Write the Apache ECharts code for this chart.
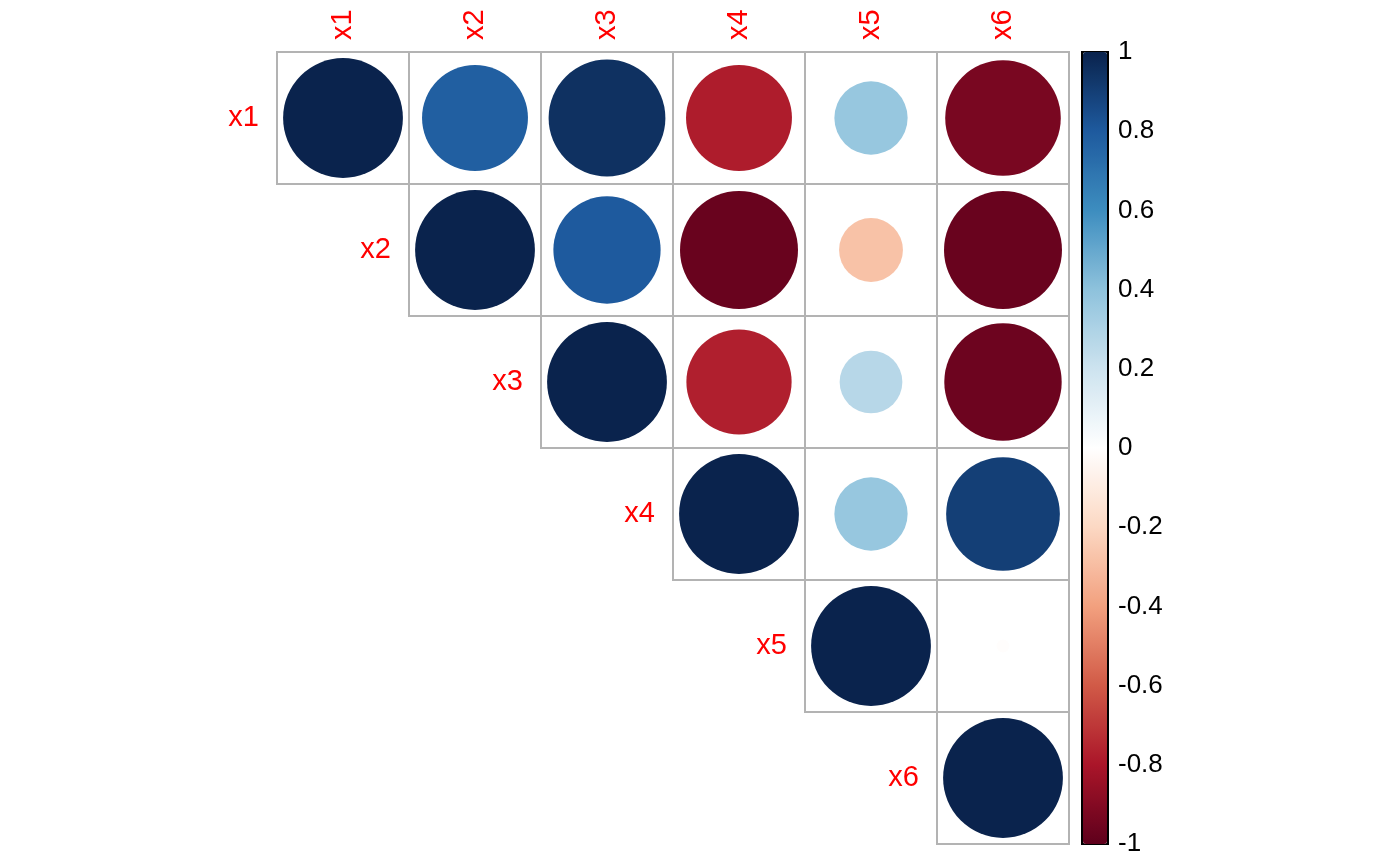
<!DOCTYPE html>
<html>
<head>
<meta charset="utf-8">
<title>corrplot</title>
<script src="https://cdn.jsdelivr.net/npm/echarts@6.0.0/dist/echarts.min.js"></script>
<style>
  html, body { margin: 0; padding: 0; background: #ffffff; }
  #main { width: 1400px; height: 865px; }
</style>
</head>
<body>
<div id="main"></div>
<script>
// variable names
const variables = ['x1', 'x2', 'x3', 'x4', 'x5', 'x6'];
// upper triangle of correlation matrix, each row starts at the diagonal
const rowX1 = [1.00, 0.78, 0.95, -0.78, 0.37, -0.93];
const rowX2 = [1.00, 0.80, -0.97, -0.28, -0.97];
const rowX3 = [1.00, -0.77, 0.27, -0.96];
const rowX4 = [1.00, 0.37, 0.90];
const rowX5 = [1.00, -0.01];
const rowX6 = [1.00];
// colour bar ticks
const barMin = -1;
const barMax = 1;
const barStep = 0.2;

const corrRows = [rowX1, rowX2, rowX3, rowX4, rowX5, rowX6];

//  [列, 行, 相关系数]
const circleData = [];
corrRows.forEach(function (row, i) {
    row.forEach(function (v, k) {
        circleData.push([i + k, i, v]);
    });
});
//  对角线上的行标签
const rowLabelData = variables.map(function (name, i) {
    return {value: [i, i], name: name};
});

const labelFont = 'Liberation Sans, Arial, Helvetica, sans-serif';

//  单元格边框
function renderCell(params, api) {
    const c = api.coord([api.value(0), api.value(1)]);
    const s = api.size([1, 1]);
    return {
        type: 'rect',
        shape: {x: c[0] - s[0] / 2, y: c[1] - s[1] / 2, width: s[0], height: s[1]},
        style: {fill: 'none', stroke: '#B3B3B3', lineWidth: 2}
    };
}

const option = {
    animation: false,
    backgroundColor: '#ffffff',
    grid: [
        {left: 277, top: 52, width: 792, height: 792},
        //  色条
        {left: 1082, top: 52, width: 26, height: 792,
            show: true, borderColor: '#000000', borderWidth: 2, backgroundColor: 'transparent'}
    ],
    xAxis: [
        {
            type: 'category',
            data: variables,
            position: 'top',
            gridIndex: 0,
            axisLine: {show: false},
            axisTick: {show: false},
            splitLine: {show: false},
            axisLabel: {
                rotate: -90,
                margin: 12,
                color: '#FF0000',
                fontSize: 29,
                fontFamily: labelFont
            }
        },
        {type: 'value', gridIndex: 1, show: false, min: 0, max: 1}
    ],
    yAxis: [
        {
            type: 'category',
            data: variables,
            inverse: true,
            gridIndex: 0,
            show: false
        },
        {
            type: 'value',
            gridIndex: 1,
            position: 'right',
            min: barMin,
            max: barMax,
            interval: barStep,
            axisLine: {show: false},
            splitLine: {show: false},
            axisTick: {show: true, inside: false, length: 5, lineStyle: {color: '#000000', width: 1.5}},
            axisLabel: {
                color: '#000000',
                fontSize: 26,
                margin: 10,
                fontFamily: labelFont,
                formatter: function (value) {
                    return String(+value.toFixed(1));
                }
            }
        }
    ],
    visualMap: {
        type: 'continuous',
        min: barMin,
        max: barMax,
        seriesIndex: 1,
        calculable: false,
        hoverLink: false,
        orient: 'vertical',
        left: 1083,
        top: 52,
        itemWidth: 24,
        itemHeight: 792,
        padding: 0,
        inRange: {
            color: ['#5E001C', '#AA1529', '#D15A47', '#F2A07E', '#FCD8C3', '#FFFFFF',
                '#CDE3EF', '#8EC2DC', '#3D8DBF', '#1E5A9E', '#0A234D']
        }
    },
    series: [
        {
            type: 'custom',
            xAxisIndex: 0,
            yAxisIndex: 0,
            renderItem: renderCell,
            data: circleData,
            encode: {x: 0, y: 1},
            silent: true,
            z: 1
        },
        {
            type: 'scatter',
            xAxisIndex: 0,
            yAxisIndex: 0,
            data: circleData,
            symbol: 'circle',
            symbolSize: function (val) {
                return 118.8 * Math.sqrt(Math.abs(val[2])) + 1;
            },
            itemStyle: {opacity: 1},
            emphasis: {disabled: true},
            z: 2
        },
        {
            type: 'scatter',
            xAxisIndex: 0,
            yAxisIndex: 0,
            data: rowLabelData,
            symbolSize: 0,
            silent: true,
            itemStyle: {opacity: 1},
            label: {
                show: true,
                position: 'left',
                distance: 84,
                formatter: '{b}',
                color: '#FF0000',
                opacity: 1,
                fontSize: 29,
                fontFamily: labelFont
            },
            z: 3
        }
    ]
};

const myChart = echarts.init(document.getElementById('main'));
myChart.setOption(option);
</script>
</body>
</html>
